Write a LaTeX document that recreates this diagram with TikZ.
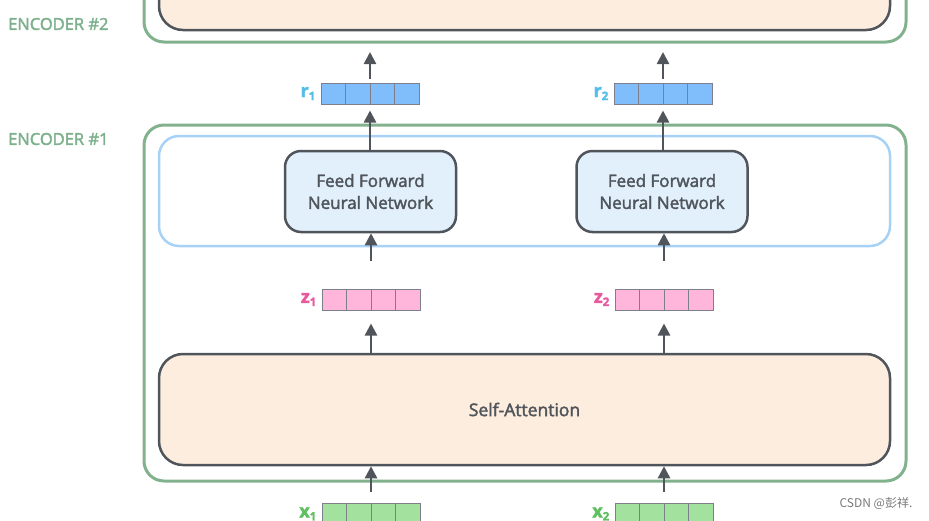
\documentclass[tikz,border=0pt]{standalone}
\usepackage{fontspec}
\setmainfont[FakeBold=2.2]{Open Sans}
\newfontfamily\labfont[FakeBold=2.2]{Open Sans}
\newfontfamily\cjk{Noto Sans CJK SC}
\usetikzlibrary{arrows.meta,calc}
\definecolor{encgreen}{RGB}{130,178,141}
\definecolor{enctext}{RGB}{125,176,140}
\definecolor{darkg}{RGB}{80,85,92}
\definecolor{peach}{RGB}{253,237,222}
\definecolor{ffnfill}{RGB}{226,240,252}
\definecolor{lightblue}{RGB}{168,210,245}
\definecolor{rfill}{RGB}{127,190,250}
\definecolor{rlab}{RGB}{85,190,230}
\definecolor{zfill}{RGB}{255,182,218}
\definecolor{zlab}{RGB}{232,90,158}
\definecolor{xfill}{RGB}{163,226,158}
\definecolor{xlab}{RGB}{95,192,95}
\definecolor{cellb}{RGB}{125,128,140}
\definecolor{wm}{RGB}{120,120,120}
\tikzset{
  encbox/.style={draw=encgreen, line width=3pt, rounded corners=20pt, inner sep=0pt},
  peachbox/.style={draw=darkg, fill=peach, line width=2.5pt, rounded corners=24pt, inner sep=0pt, text=darkg, font=\fontsize{17.5}{20}\selectfont},
  layerbox/.style={draw=lightblue, fill=white, line width=2.5pt, rounded corners=20pt, inner sep=0pt},
  ffnbox/.style={draw=darkg, fill=ffnfill, line width=2.5pt, rounded corners=16pt, inner sep=0pt, minimum width=171pt, minimum height=81pt, text=darkg, align=center, font=\fontsize{17}{22}\selectfont},
  vec/.style={draw=cellb, line width=1pt, inner sep=0pt, minimum width=98pt, minimum height=21pt,
    path picture={\foreach \i in {1,2,3}{\draw[cellb, line width=1pt] ($(path picture bounding box.north west)!\i/4!(path picture bounding box.north east)$) -- ($(path picture bounding box.south west)!\i/4!(path picture bounding box.south east)$);}}},
  veclab/.style={anchor=east, inner sep=0pt, font=\fontsize{18}{18}\selectfont\bfseries},
  enclab/.style={anchor=west, inner sep=0pt, text=enctext, font=\labfont\fontsize{16.5}{18}\selectfont},
  arr/.style={draw=darkg, line width=2.5pt, -{Triangle[length=12pt,width=12pt]}}
}
\newcommand{\sbone}[1]{\raisebox{-3pt}{\fontsize{11.5}{11.5}\selectfont #1}}
\begin{document}
\begin{tikzpicture}[x=1pt,y=-1pt]
\useasboundingbox (0,0) rectangle (929,520);
\clip (0,0) rectangle (929,520);

% encoder 2 (cut off)
\node[encbox, minimum width=762pt, minimum height=82pt] (enc2) at (525,1) {};
\node[peachbox, minimum width=731pt, minimum height=70pt] (enc2in) at (524.5,-5) {};
\node[enclab] (lab2) at (8,24) {ENCODER \#2};

% encoder 1
\node[encbox, minimum width=762pt, minimum height=356pt] (enc1) at (525,303) {};
\node[enclab] (lab1) at (8,139) {ENCODER \#1};
\node[layerbox, minimum width=731pt, minimum height=110pt] (layer) at (524.5,191) {};
\node[ffnbox] (ffn1) at (370.5,191.5) {Feed Forward\\Neural Network};
\node[ffnbox] (ffn2) at (662,191.5) {Feed Forward\\Neural Network};
\node[peachbox, minimum width=731pt, minimum height=111pt] (sa) at (524.5,409.5) {Self-Attention};

% vectors
\node[vec, fill=rfill] (r1) at (370,93.5) {};
\node[vec, fill=rfill] (r2) at (663,93.5) {};
\node[vec, fill=zfill] (z1) at (371,299.5) {};
\node[vec, fill=zfill] (z2) at (664,299.5) {};
\node[vec, fill=xfill] (x1) at (371,514) {};
\node[vec, fill=xfill] (x2) at (664,514) {};

\node[veclab, text=rlab] (r1l) at ($(r1.west)+(-5,0)$) {r\sbone{1}};
\node[veclab, text=rlab] (r2l) at ($(r2.west)+(-5,0)$) {r\sbone{2}};
\node[veclab, text=zlab] (z1l) at ($(z1.west)+(-5,0)$) {z\sbone{1}};
\node[veclab, text=zlab] (z2l) at ($(z2.west)+(-5,0)$) {z\sbone{2}};
\node[veclab, text=xlab] (x1l) at ($(x1.west)+(-5,0)$) {x\sbone{1}};
\node[veclab, text=xlab] (x2l) at ($(x2.west)+(-5,0)$) {x\sbone{2}};

% arrows
\foreach \c in {1,2}{
  \draw[arr, shorten <=11pt] (x\c.north) -- (x\c.north |- sa.south);
  \draw[arr, shorten >=13pt] (z\c.south |- sa.north) -- (z\c.south);
  \draw[arr, shorten <=28pt] (z\c.north) -- (z\c.north |- ffn\c.south);
  \draw[arr, shorten >=6pt] (r\c.south |- ffn\c.north) -- (r\c.south);
  \draw[arr, shorten <=4pt, shorten >=8.5pt] (r\c.north) -- (r\c.north |- enc2.south);
}

% watermark
\node[text=wm, inner sep=0pt, font=\cjk\fontsize{12}{12}\selectfont] (wmk) at (876,503) {CSDN @彭祥.};
\end{tikzpicture}
\end{document}
